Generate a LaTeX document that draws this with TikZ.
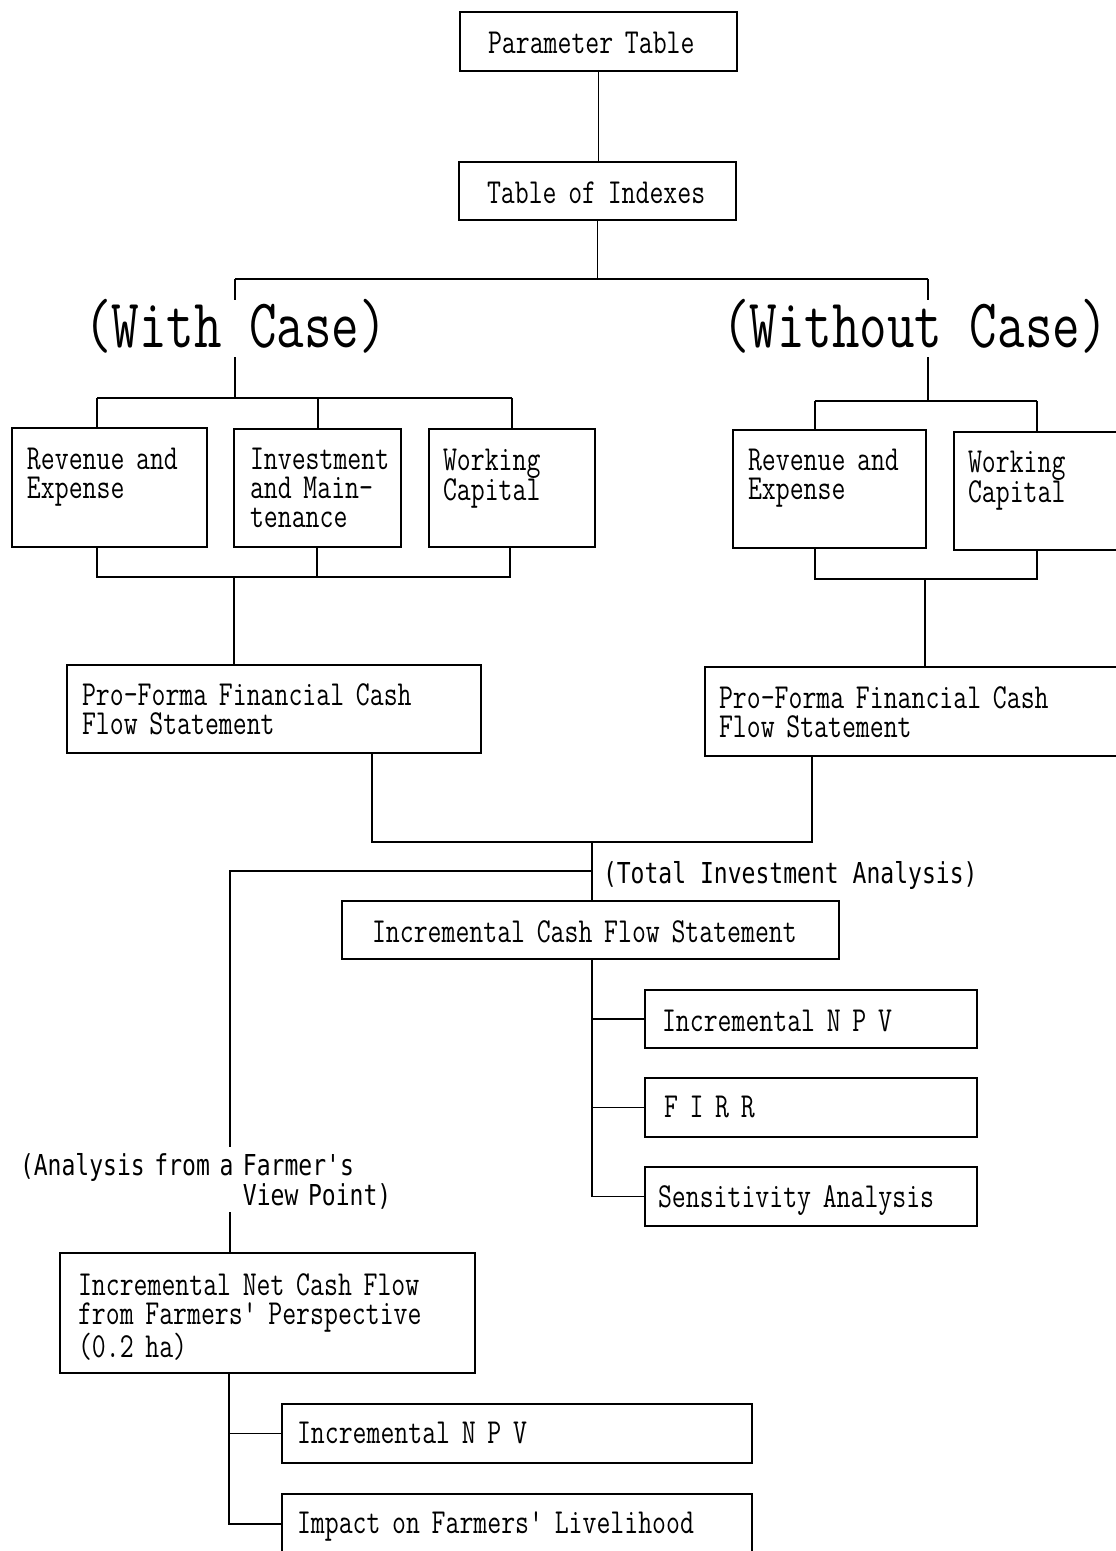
\documentclass[tikz,border=0pt]{standalone}
\usepackage{fontspec}
\newfontfamily\jfont[FakeStretch=0.77]{Latin Modern Mono}
\newfontfamily\gfont[FakeStretch=0.8]{DejaVu Sans Mono}
\hyphenpenalty=10000
\exhyphenpenalty=10000
\tikzset{
  lw/.style={line width=1.7pt},
  box/.style={draw, line width=1.7pt, anchor=north west, inner ysep=0pt, outer sep=0pt,
    align=left, font=\jfont\fontsize{35.1}{29}\selectfont},
  lbl/.style={inner sep=0pt, outer sep=0pt, anchor=base west, fill=white},
  biglbl/.style={lbl, font=\jfont\fontsize{69.5}{67}\selectfont, text height=47pt, text depth=10pt},
  glbl/.style={lbl, font=\gfont\fontsize{28.8}{30}\selectfont},
}
\begin{document}
\begin{tikzpicture}[x=1pt,y=-1pt]
\useasboundingbox (0,0) rectangle (1116,1551);
\clip (0,0) rectangle (1116,1551);

% boxes
\node[box, inner xsep=28pt, text width=221pt, text height=41pt, text depth=18pt] (pt) at (460,12) {Parameter~Table};
\node[box, inner xsep=28pt, text width=221pt, text height=41pt, text depth=17pt] (ti) at (459,162) {Table~of~Indexes};

\node[box, inner xsep=15pt, text width=165pt, text height=41pt, text depth=78pt] (revW) at (12,428) {Revenue~and\\Expense};
\node[box, inner xsep=16pt, text width=135pt, text height=40pt, text depth=78pt] (invW) at (234,429) {Investment\\and~Main-\\tenance};
\node[box, inner xsep=14pt, text width=138pt, text height=41pt, text depth=77pt] (wcW) at (429,429) {Working\\Capital};
\node[box, inner xsep=15pt, text width=384pt, text height=40pt, text depth=48pt] (pfW) at (67,665) {Pro-Forma~Financial~Cash\\Flow~Statement};

\node[box, inner xsep=15pt, text width=163pt, text height=40pt, text depth=78pt] (revO) at (733,430) {Revenue~and\\Expense};
\node[box, inner xsep=14pt, text width=162pt, text height=40pt, text depth=78pt] (wcO) at (954,432) {Working\\Capital};
\node[box, inner xsep=14pt, text width=402pt, text height=41pt, text depth=48pt] (pfO) at (705,667) {Pro-Forma~Financial~Cash\\Flow~Statement};

\node[box, inner xsep=30pt, text width=437pt, text height=41pt, text depth=17pt] (icf) at (342,901) {Incremental~Cash~Flow~Statement};
\node[box, inner xsep=17pt, text width=298pt, text height=41pt, text depth=17pt] (npvA) at (645,990) {Incremental~N~P~V};
\node[box, inner xsep=19pt, text width=294pt, text height=39pt, text depth=20pt] (firr) at (645,1078) {F~I~R~R};
\node[box, inner xsep=13pt, text width=306pt, text height=40pt, text depth=19pt] (sens) at (645,1167) {Sensitivity~Analysis};

\node[box, inner xsep=18pt, text width=379pt, text height=42pt, text depth=78pt] (ncf) at (60,1253) {Incremental~Net~Cash~Flow\\from~Farmers'~Perspective\\(0.2~ha)};
\node[box, inner xsep=15pt, text width=440pt, text height=39pt, text depth=20pt] (npvB) at (282,1404) {Incremental~N~P~V};
\node[box, inner xsep=15pt, text width=440pt, text height=39pt, text depth=31pt] (imp) at (282,1494) {Impact~on~Farmers'~Livelihood};

% junction coordinates
\coordinate (jL) at (235,279);
\coordinate (jR) at (928,279);
\coordinate (wJ) at (235,398);
\coordinate (oJ) at (928,401);
\coordinate (wa) at (97,398);
\coordinate (wb) at (318,398);
\coordinate (wc) at (512,398);
\coordinate (wa2) at (97,577);
\coordinate (wb2) at (317,577);
\coordinate (wc2) at (510,577);
\coordinate (wJ2) at (234,577);
\coordinate (oa) at (815,401);
\coordinate (ob) at (1037,401);
\coordinate (oa2) at (815,579);
\coordinate (ob2) at (1037,579);
\coordinate (oJ2) at (925,579);
\coordinate (pa) at (372,842);
\coordinate (pb) at (812,842);
\coordinate (pm) at (592,842);
\coordinate (fL) at (230,871);
\coordinate (ib) at (592,1196);
\coordinate (fb) at (229,1524);

% connectors
\draw[lw] (pt.south) -- (pt.south |- ti.north);
\draw[lw] (ti.south) -- (ti.south |- jL);
\draw[lw] (jL) -- (jR);
\draw[lw] (jL) -- (wJ);
\draw[lw] (jR) -- (oJ);

\draw[lw] (wa) -- (wc);
\draw[lw] (wa) -- (wa |- revW.north);
\draw[lw] (wb) -- (wb |- invW.north);
\draw[lw] (wc) -- (wc |- wcW.north);
\draw[lw] (wa2 |- revW.south) -- (wa2) -- (wc2) -- (wc2 |- wcW.south);
\draw[lw] (wb2 |- invW.south) -- (wb2);
\draw[lw] (wJ2) -- (wJ2 |- pfW.north);

\draw[lw] (oa) -- (ob);
\draw[lw] (oa) -- (oa |- revO.north);
\draw[lw] (ob) -- (ob |- wcO.north);
\draw[lw] (oa2 |- revO.south) -- (oa2) -- (ob2) -- (ob2 |- wcO.south);
\draw[lw] (oJ2) -- (oJ2 |- pfO.north);

\draw[lw] (pa |- pfW.south) -- (pa) -- (pb) -- (pb |- pfO.south);
\draw[lw] (pm) -- (pm |- icf.north);
\draw[lw] (pm |- fL) -- (fL) -- (fL |- ncf.north);

\draw[lw] (ib |- icf.south) -- (ib |- sens.west) -- (sens.west);
\draw[lw] (ib |- npvA.west) -- (npvA.west);
\draw[lw] (ib |- firr.west) -- (firr.west);

\draw[lw] (fb |- ncf.south) -- (fb) -- (fb -| imp.west);
\draw[lw] (fb |- npvB.west) -- (npvB.west);

% labels
\node[biglbl] (withL) at (84,347) {(With Case)};
\node[biglbl] (woL) at (722,347) {(Without Case)};
\node[glbl] (tiaL) at (603,883) {(Total Investment Analysis)};
\node[glbl, align=left, text width=380pt, text height=28pt, text depth=37pt] (farL) at (20,1175) {(Analysis~from~a~Farmer's\\\hspace*{223pt}View~Point)};
\end{tikzpicture}
\end{document}
